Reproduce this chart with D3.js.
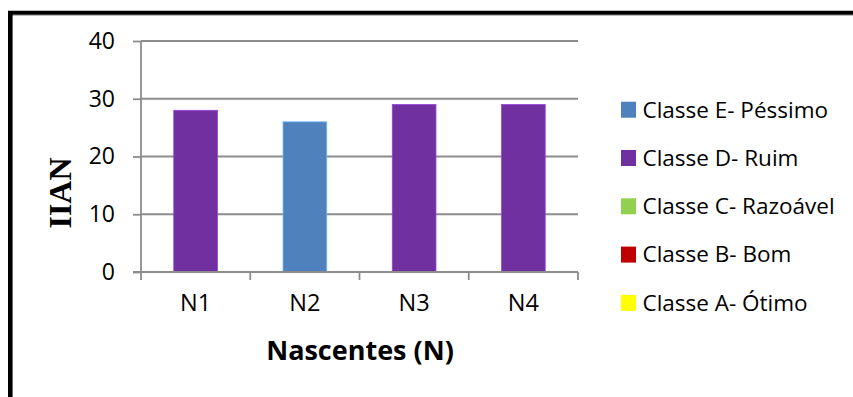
<!DOCTYPE html>
<html><head><meta charset="utf-8">
<script src="https://cdn.jsdelivr.net/npm/d3@7/dist/d3.min.js"></script>
<style>body{margin:0;background:#fff}svg{display:block}</style>
</head><body>
<svg id="c" width="853" height="397"></svg>
<script>
const categories = ["N1","N2","N3","N4"];
const values = [28, 26, 29, 29];
const barClass = ["Classe D- Ruim","Classe E- Péssimo","Classe D- Ruim","Classe D- Ruim"];
const legendLabels = ["Classe E- Péssimo","Classe D- Ruim","Classe C- Razoável","Classe B- Bom","Classe A- Ótimo"];
const legendColors = ["#4F81BD","#7030A0","#92D050","#C00000","#FFFF00"];
const yTicks = [0,10,20,30,40];

const svg = d3.select("#c");
const font = "'Open Sans', 'Liberation Sans', sans-serif";

// frame
svg.append("line").attr("x1",8).attr("x2",853).attr("y1",15.5).attr("y2",15.5).attr("stroke","#bbb").attr("stroke-width",1);
svg.append("line").attr("x1",8).attr("x2",853).attr("y1",12.8).attr("y2",12.8).attr("stroke","#000").attr("stroke-width",4);
svg.append("line").attr("x1",10.3).attr("x2",10.3).attr("y1",11).attr("y2",397).attr("stroke","#000").attr("stroke-width",4.6);

const color = d3.scaleOrdinal().domain(legendLabels).range(legendColors);
const x = d3.scaleBand().domain(categories).range([141,578]).paddingInner(0.6).paddingOuter(0.3);
const xb = d3.scaleBand().domain(categories).range([141,578]);
const y = d3.scaleLinear().domain([0,40]).range([272,41]);

// gridlines
svg.append("g").selectAll("line").data(yTicks.slice(1)).join("line")
  .attr("x1",141).attr("x2",578).attr("y1",d=>y(d)).attr("y2",d=>y(d))
  .attr("stroke","#8c8c8c").attr("stroke-width",1.8);

// bars
svg.append("g").selectAll("rect").data(categories).join("rect")
  .attr("x",d=>x(d)).attr("width",x.bandwidth())
  .attr("y",(d,i)=>y(values[i])).attr("height",(d,i)=>y(0)-y(values[i]))
  .attr("fill",(d,i)=>color(barClass[i]))
  .attr("stroke",(d,i)=>d3.color(color(barClass[i])).brighter(0.9))
  .attr("stroke-width",0.8);

// y axis
const yAxis = d3.axisLeft(y).tickValues(yTicks).tickSize(8).tickPadding(18);
const gy = svg.append("g").attr("transform","translate(141,0)").call(yAxis);
gy.select(".domain").attr("stroke","#8c8c8c").attr("stroke-width",1.8).attr("d","M0,41V272");
gy.selectAll(".tick line").attr("stroke","#8c8c8c").attr("stroke-width",1.8);
gy.selectAll("text").attr("font-family",font).attr("font-size",23).attr("fill","#000");

// x axis
const xAxis = d3.axisBottom(xb).tickSize(0).tickPadding(22);
const gx = svg.append("g").attr("transform","translate(0,272)").call(xAxis);
gx.select(".domain").attr("stroke","#8c8c8c").attr("stroke-width",1.8).attr("d","M133,0H578");
gx.selectAll("text").attr("font-family",font).attr("font-size",23.5).attr("fill","#000");
const bounds = categories.map(c=>xb(c)).concat([578]);
gx.append("g").selectAll("line").data(bounds).join("line")
  .attr("x1",d=>d).attr("x2",d=>d).attr("y1",0).attr("y2",8)
  .attr("stroke","#8c8c8c").attr("stroke-width",1.8);

// axis titles
svg.append("text").attr("x",360).attr("y",360).attr("text-anchor","middle")
  .attr("font-family",font).attr("font-weight","bold").attr("font-size",27).text("Nascentes (N)");
svg.append("text").attr("transform","translate(71,193) rotate(-90)").attr("text-anchor","middle")
  .attr("font-family","'Liberation Serif', 'DejaVu Serif', serif").attr("font-weight","bold").attr("font-size",32).text("IIAN");

// legend
const lg = svg.append("g").selectAll("g").data(legendLabels).join("g")
  .attr("transform",(d,i)=>`translate(621,${109.7 + i*48.3})`);
lg.append("rect").attr("x",0).attr("y",-8).attr("width",15).attr("height",16).attr("fill",d=>color(d));
lg.append("text").attr("x",21.5).attr("y",7.8).attr("font-family",font).attr("font-size",22.5).attr("fill","#000").text(d=>d);
</script>
</body></html>
